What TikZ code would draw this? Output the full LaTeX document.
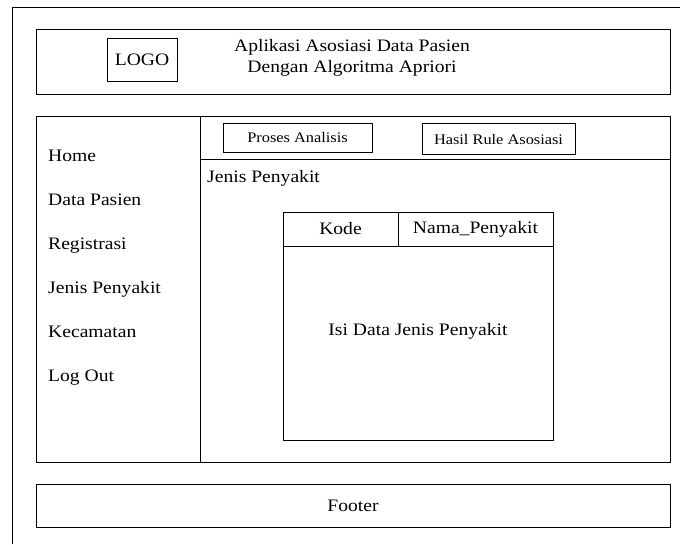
\documentclass[tikz,border=0pt]{standalone}
\usepackage{fontspec}
\setmainfont{Liberation Serif}[FakeStretch=1.12]
\begin{document}
\begin{tikzpicture}[x=1pt,y=-1pt,
  frame/.style={draw=black,line width=0.8pt},
  lbl/.style={inner sep=0pt,font=\fontsize{17.5}{21}\selectfont},
  smalllbl/.style={inner sep=0pt,font=\fontsize{14.6}{17}\selectfont},
  menu/.style={lbl,anchor=base west}]
\useasboundingbox (0,0) rectangle (680,544);
\fill[white] (0,0) rectangle (680,544);
% outer frame (right and bottom edges cut off)
\draw[frame] (12,544) -- (12,7) -- (680,7);
% header
\draw[frame] (36,29) rectangle (670,94);
\draw[frame] (107,38) rectangle (177,81);
\node[lbl] (logo) at (142,59.5) {LOGO};
\node[lbl,align=center] (title) at (352,57.5) {Aplikasi Asosiasi Data Pasien\\Dengan Algoritma Apriori};
% main area
\draw[frame] (36,116) rectangle (670,462);
\draw[frame] (200,116) -- (200,462);
\draw[frame] (200,159) -- (670,159);
% tabs
\draw[frame] (223,123) rectangle (372,152);
\node[smalllbl] (tab1) at (297.5,137.5) {Proses Analisis};
\draw[frame] (422,123) rectangle (575,154);
\node[smalllbl] (tab2) at (498.5,139.5) {Hasil Rule Asosiasi};
% page title
\node[menu] (pagetitle) at (207,182) {Jenis Penyakit};
% sidebar menu
\node[menu] (home) at (48,161) {Home};
\node[menu] (pasien) at (48,205) {Data Pasien};
\node[menu] (reg) at (48,249) {Registrasi};
\node[menu] (jenis) at (48,293) {Jenis Penyakit};
\node[menu] (kec) at (48,337) {Kecamatan};
\node[menu] (logout) at (48,381) {Log Out};
% table
\draw[frame] (283,212) rectangle (553,440);
\draw[frame] (283,246) -- (553,246);
\draw[frame] (398,212) -- (398,246);
\node[lbl] (kode) at (340.5,229) {Kode};
\node[lbl] (nama) at (475.5,229) {Nama\_Penyakit};
\node[lbl,anchor=base] (isi) at (418,335) {Isi Data Jenis Penyakit};
% footer
\draw[frame] (36,484) rectangle (670,527);
\node[lbl] (footer) at (353,505.5) {Footer};
\end{tikzpicture}
\end{document}
